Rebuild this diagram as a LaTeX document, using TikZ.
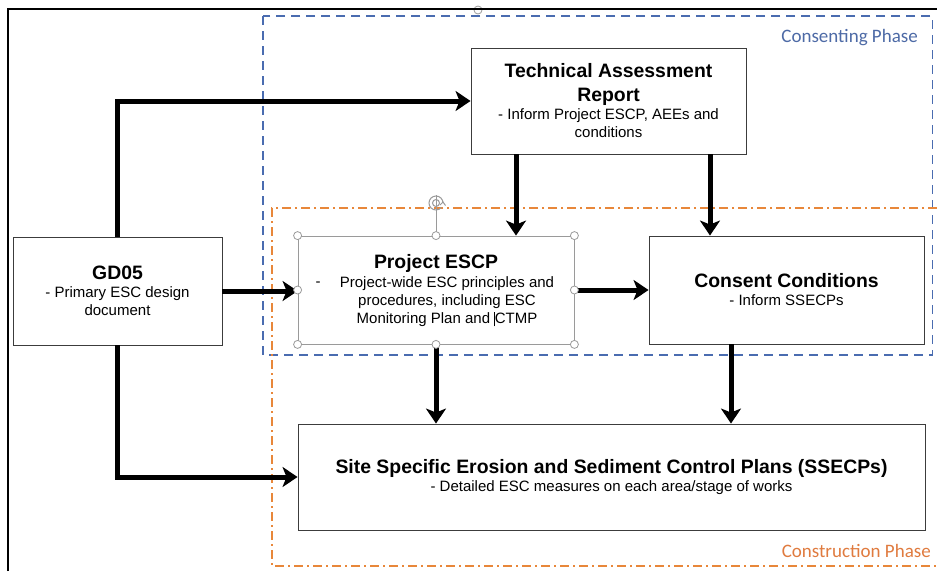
\documentclass[tikz,border=0pt]{standalone}
\usepackage{fontspec}
\setmainfont{Liberation Sans}
\newfontfamily\phasefont{Carlito}
\usetikzlibrary{arrows.meta,calc}
\definecolor{cblue}{HTML}{4A6CB0}
\definecolor{cbluetxt}{HTML}{4D6AA6}
\definecolor{corange}{HTML}{E8873A}
\definecolor{corangetxt}{HTML}{E07B3F}
\definecolor{boxgray}{HTML}{3C3C3C}
\definecolor{selgray}{HTML}{9A9A9A}
\newcommand{\ttlf}{\fontsize{19.4}{18}\selectfont\bfseries}
\newcommand{\bdyf}{\fontsize{15}{18}\selectfont\mdseries}
\begin{document}
\begin{tikzpicture}[x=1pt,y=-1pt,
  box/.style={draw=boxgray,line width=0.9pt,inner sep=0pt,align=center,fill=white,font=\bdyf},
  txt/.style={align=center,inner sep=0pt},
  flow/.style={line width=5pt,-{Stealth[length=15pt,width=20pt,inset=4pt]}},
  handle/.style={circle,draw=selgray,fill=white,line width=0.8pt,minimum size=8pt,inner sep=0pt},
  phase/.style={anchor=east,inner sep=0pt,font=\phasefont\fontsize{19}{19}\selectfont}]
\useasboundingbox (0,0) rectangle (937,571);
\fill[white] (0,0) rectangle (937,571);

% phase regions
\draw[cblue,line width=1.3pt,dash pattern=on 9pt off 6pt] (263,16) rectangle (932.5,355);
\draw[corange,line width=1.3pt,dash pattern=on 9pt off 4pt on 2pt off 4pt] (937,208) -- (272,208) -- (272,566) -- (937,566);
\node[phase,text=cbluetxt] (cphase) at (918,38) {Consenting Phase};
\node[phase,text=corangetxt] (kphase) at (931,551) {Construction Phase};

% top handle of an off-frame object
\node[handle] (toph) at (478,10) {};
% frame
\draw[black,line width=1.4pt] (8,571) -- (8,9) -- (937,9);

% boxes
\node[box,minimum width=275pt,minimum height=106pt] (tar) at (608.5,101)
  {\ttlf Technical Assessment\\[6pt]\ttlf Report\\- Inform Project ESCP, AEEs and\\conditions};
\node[box,minimum width=209pt,minimum height=108pt] (gd) at (117.5,291)
  {\ttlf GD05\\- Primary ESC design\\document};
\node[box,draw=selgray,line width=0.8pt,minimum width=276pt,minimum height=108pt] (pe) at (436,290) {};
\node[txt,font=\ttlf] (pet) at (436,263) {Project ESCP};
\node[txt,font=\bdyf] (peb) at (447,302) {Project-wide ESC principles and\\procedures, including ESC\\Monitoring Plan and \rule[-2.5pt]{0.5pt}{14pt}CTMP};
\node[txt,font=\bdyf] (ped) at (318,284) {-};
\node[box,minimum width=275pt,minimum height=108pt] (cc) at (786.5,290)
  {\ttlf Consent Conditions\\- Inform SSECPs};
\node[box,minimum width=627pt,minimum height=106pt] (ss) at (611.5,477)
  {\ttlf Site Specific Erosion and Sediment Control Plans (SSECPs)\\- Detailed ESC measures on each area/stage of works};

% connectors
\draw[flow] (gd.north) |- (tar.west);
\draw[flow] (gd.south) |- (ss.west);
\draw[flow] (gd.east) -- (gd.east -| pe.west);
\draw[flow] ([xshift=-92.5pt]tar.south) -- ([xshift=-92.5pt]tar.south |- pe.north);
\draw[flow] ([xshift=101.5pt]tar.south) -- ([xshift=101.5pt]tar.south |- cc.north);
\draw[flow] (pe.east) -- (cc.west);
\draw[flow] (pe.south) -- (pe.south |- ss.north);
\draw[flow] ([xshift=-55.5pt]cc.south) -- ([xshift=-55.5pt]cc.south |- ss.north);

% selection handles on Project ESCP
\coordinate (rot) at (436,203);
\draw[selgray,line width=0.8pt] (pe.north) -- ([yshift=8pt]rot);
\draw[selgray,line width=1pt] ([xshift=7pt]rot) arc[start angle=0,end angle=320,radius=7pt];
\draw[selgray,line width=1pt] (rot) circle[radius=3.5pt];
\draw[selgray,line width=1pt] ([xshift=4pt,yshift=-2pt]rot) -- ([xshift=7pt,yshift=1pt]rot) -- ([xshift=9.5pt,yshift=-2.5pt]rot);
\foreach \a [count=\i] in {north west,north,north east,west,east,south west,south,south east}
  \node[handle] (h\i) at (pe.\a) {};
\end{tikzpicture}
\end{document}
